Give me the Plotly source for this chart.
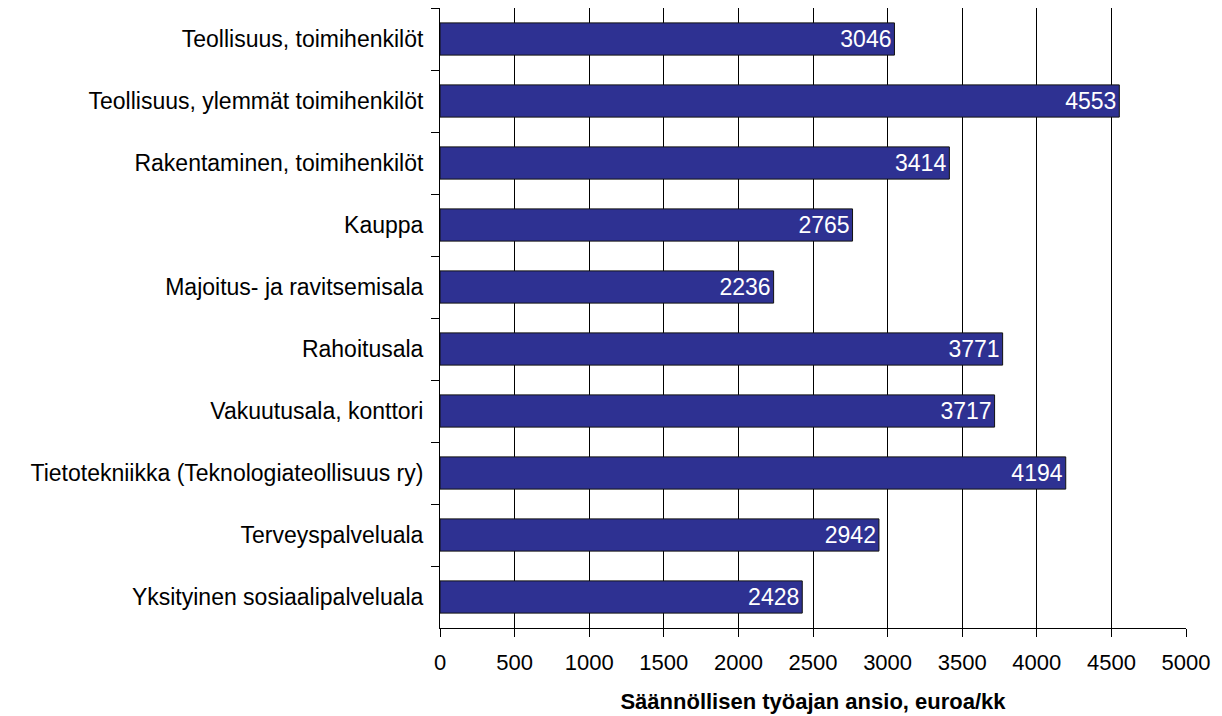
import plotly.graph_objects as go

categories = [
    "Teollisuus, toimihenkilöt",
    "Teollisuus, ylemmät toimihenkilöt",
    "Rakentaminen, toimihenkilöt",
    "Kauppa",
    "Majoitus- ja ravitsemisala",
    "Rahoitusala",
    "Vakuutusala, konttori",
    "Tietotekniikka (Teknologiateollisuus ry)",
    "Terveyspalveluala",
    "Yksityinen sosiaalipalveluala",
]
values = [3046, 4553, 3414, 2765, 2236, 3771, 3717, 4194, 2942, 2428]
x_ticks = [0, 500, 1000, 1500, 2000, 2500, 3000, 3500, 4000, 4500, 5000]

fig = go.Figure(go.Bar(
    x=values, y=categories, orientation="h",
    marker=dict(color="#2E3192", line=dict(color="#111111", width=1)),
    text=[str(v) for v in values], textposition="inside", insidetextanchor="end",
    textfont=dict(color="white", size=23, family="Arial, Liberation Sans"),
    width=0.52,
))

fig.update_layout(
    width=1222, height=716,
    margin=dict(l=432, r=44, t=0, b=96),
    paper_bgcolor="white", plot_bgcolor="white",
    font=dict(family="Arial, Liberation Sans", color="black"),
    showlegend=False,
)
fig.update_xaxes(
    range=[0, 5000], tickvals=x_ticks, ticktext=[str(t) for t in x_ticks],
    showgrid=True, gridcolor="#000000", gridwidth=1,
    showline=True, linecolor="black", linewidth=1,
    ticks="outside", ticklen=8, tickcolor="black",
    tickfont=dict(size=22, family="Arial, Liberation Sans"),
    ticklabelstandoff=7, zeroline=False, automargin=False,
    title=dict(text="<b>Säännöllisen työajan ansio, euroa/kk</b>",
               font=dict(size=22, family="Arial, Liberation Sans"), standoff=19),
)
fig.update_yaxes(
    categoryorder="array", categoryarray=categories, autorange="reversed",
    showline=True, linecolor="black", linewidth=1,
    ticks="outside", ticklen=8, tickcolor="black", tickson="boundaries",
    tickfont=dict(size=23), ticklabelstandoff=11, showgrid=False, automargin=False,
)

fig.write_html("out.html")
